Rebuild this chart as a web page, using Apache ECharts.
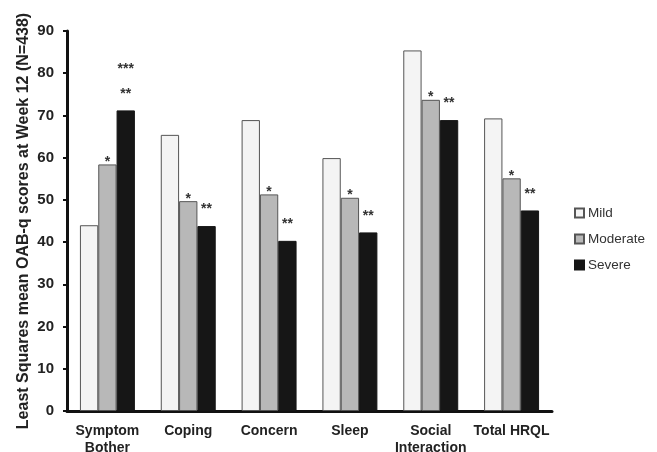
<!DOCTYPE html>
<html>
<head>
<meta charset="utf-8">
<script src="https://cdn.jsdelivr.net/npm/echarts@6/dist/echarts.min.js"></script>
<style>html,body{margin:0;padding:0;background:#fff;}#c{width:657px;height:452px;}</style>
</head>
<body>
<div id="c"></div>
<script>
var categories = ['Symptom\nBother', 'Coping', 'Concern', 'Sleep', 'Social\nInteraction', 'Total HRQL'];
var seriesNames = ['Mild', 'Moderate', 'Severe'];
var mild = [44.0, 65.4, 68.9, 59.9, 85.4, 69.3];
var moderate = [58.4, 49.7, 51.3, 50.5, 73.7, 55.1];
var severe = [71.2, 43.8, 40.3, 42.3, 68.9, 47.5];
var moderateStars = ['*', '*', '*', '*', '*', '*'];
var severeStars = ['***\n**', '**', '**', '**', '**', '**'];
var yTicks = [0, 10, 20, 30, 40, 50, 60, 70, 80, 90];

var chart = echarts.init(document.getElementById('c'), null, {renderer: 'canvas'});
var starLabel = function (stars, dist) {
  return {
    show: true, position: 'top', distance: dist,
    formatter: function (p) { return stars[p.dataIndex]; },
    fontFamily: 'Liberation Sans, Arial', fontWeight: 'bold', fontSize: 14,
    color: '#333', lineHeight: 25
  };
};
var option = {
  animation: false,
  backgroundColor: '#fff',
  grid: {left: 67, right: 105, top: 31, bottom: 41, containLabel: false, outerBoundsMode: 'none'},
  legend: {
    orient: 'vertical', left: 569, top: 201,
    itemWidth: 9, itemHeight: 9, itemGap: 12,
    icon: 'rect',
    textStyle: {fontFamily: 'Liberation Sans, Arial', fontSize: 13.5, color: '#333', padding: [0, 0, 0, -1]},
    data: seriesNames
  },
  xAxis: {
    type: 'category', data: categories,
    axisLine: {lineStyle: {color: '#111', width: 3}},
    axisTick: {show: false},
    axisLabel: {fontFamily: 'Liberation Sans, Arial', fontWeight: 'bold', fontSize: 14, color: '#222', margin: 12, lineHeight: 17, interval: 0}
  },
  yAxis: {
    type: 'value', min: yTicks[0], max: yTicks[yTicks.length - 1], interval: 10,
    name: 'Least Squares mean OAB-q scores at Week 12 (N=438)',
    nameLocation: 'middle', nameGap: 35, nameRotate: 90, nameMoveOverlap: false,
    nameTextStyle: {fontFamily: 'Liberation Sans, Arial', fontWeight: 'bold', fontSize: 16, color: '#222'},
    axisLine: {show: true, lineStyle: {color: '#111', width: 3}},
    axisTick: {show: true, length: 4, lineStyle: {color: '#111', width: 2}},
    splitLine: {show: false},
    axisLabel: {fontFamily: 'Liberation Sans, Arial', fontWeight: 'bold', fontSize: 15, color: '#222', margin: 13}
  },
  series: [
    {name: 'Mild', type: 'bar', data: mild, barGap: '0%', barCategoryGap: '32%',
     itemStyle: {color: '#f4f4f4', borderColor: '#555', borderWidth: 1}},
    {name: 'Moderate', type: 'bar', data: moderate, barGap: '0%', barCategoryGap: '32%',
     itemStyle: {color: '#b8b8b8', borderColor: '#555', borderWidth: 1},
     label: starLabel(moderateStars, -10)},
    {name: 'Severe', type: 'bar', data: severe, barGap: '0%', barCategoryGap: '32%',
     itemStyle: {color: '#161616', borderColor: '#161616', borderWidth: 1},
     label: starLabel(severeStars, 4)}
  ]
};
chart.setOption(option);
</script>
</body>
</html>
